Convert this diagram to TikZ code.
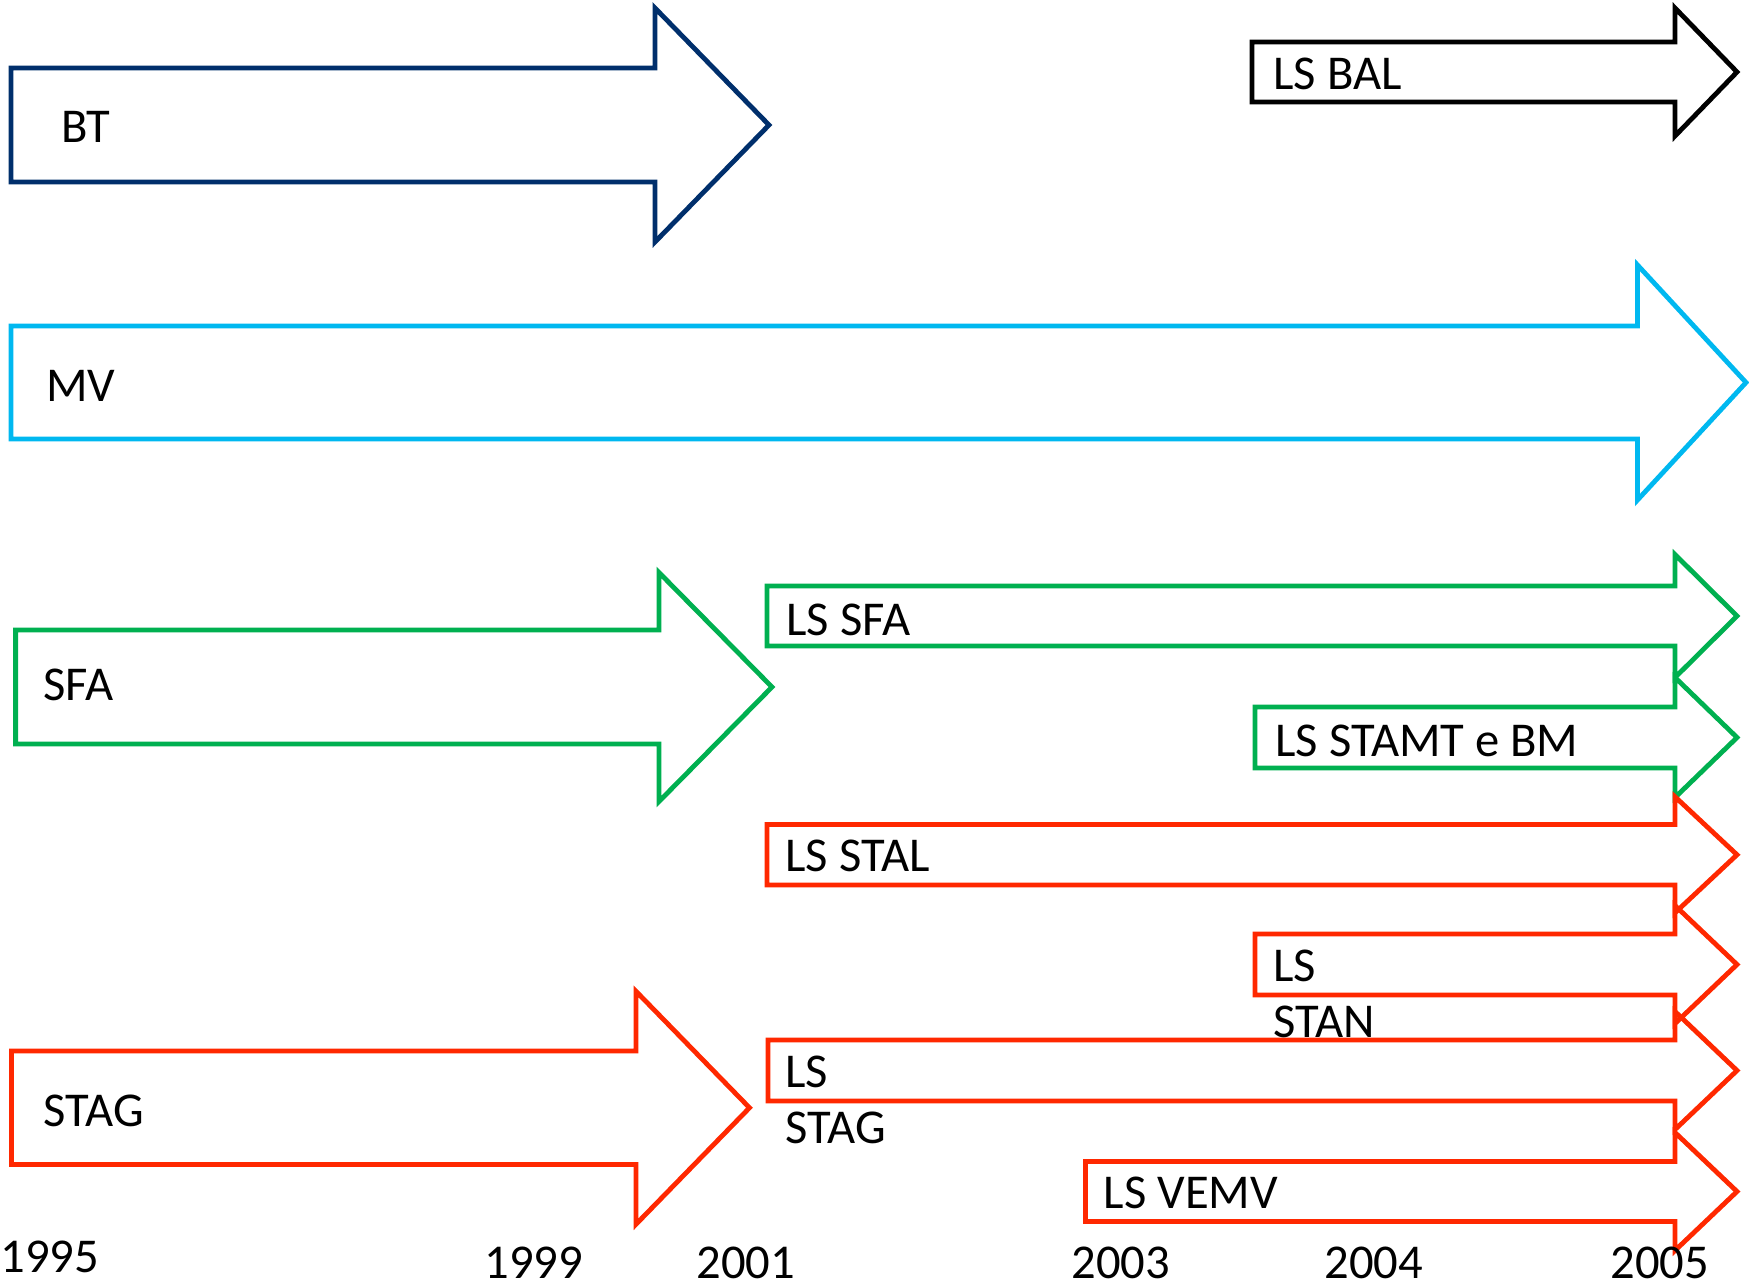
\documentclass[tikz,border=0pt]{standalone}
\usepackage{fontspec}
\setmainfont{Carlito}
\definecolor{cbt}{RGB}{0,47,108}
\definecolor{cmv}{RGB}{0,184,240}
\definecolor{cgr}{RGB}{0,176,80}
\definecolor{crd}{RGB}{255,40,0}
\newcommand\tlarrow[7]{% style, x0, top, bottom, xbase, half, tip
  \draw[#1] (#2,#3) -- (#5,#3) -- (#5,{(#3+#4)/2-#6}) -- (#7,{(#3+#4)/2})
    -- (#5,{(#3+#4)/2+#6}) -- (#5,#4) -- (#2,#4) -- cycle;}
\begin{document}
\begin{tikzpicture}[x=0.5pt,y=-0.5pt,
  arr/.style={line width=2.4pt},
  lbl/.style={inner sep=0pt,anchor=base west,font=\fontsize{24.3}{28}\selectfont,align=left},
  yr/.style={inner sep=0pt,anchor=base west,font=\fontsize{24.3}{28}\selectfont}]
\useasboundingbox (0,0) rectangle (1749,1287);
% arrows
\tlarrow{arr,cbt}{11}{68}{182}{655}{117}{769}
\tlarrow{arr,black}{1252}{42}{102}{1675}{64}{1737}
\tlarrow{arr,cmv}{11}{326}{439}{1637.5}{117.5}{1746}
\tlarrow{arr,cgr}{15.6}{630}{744}{659}{114.5}{772}
\tlarrow{arr,cgr}{767}{586}{646}{1675}{61.5}{1737}
\tlarrow{arr,cgr}{1255}{707}{768}{1675}{60}{1737}
\tlarrow{arr,crd}{767}{824.5}{885}{1675}{58}{1737}
\tlarrow{arr,crd}{1255}{934}{995}{1675}{59}{1737}
\tlarrow{arr,crd}{768}{1040}{1101}{1675}{59}{1737}
\tlarrow{arr,crd}{1085.5}{1161.5}{1221.5}{1675}{59}{1737}
\tlarrow{arr,crd}{11.5}{1051}{1164.5}{636}{116.5}{749.5}
% labels
\node[lbl] (bt) at (61,142) {BT};
\node[lbl] (lsbal) at (1273,89) {LS BAL};
\node[lbl] (mv) at (46,401) {MV};
\node[lbl] (sfa) at (43,700) {SFA};
\node[lbl] (lssfa) at (786,635) {LS SFA};
\node[lbl] (lsstamt) at (1275,756) {LS STAMT e BM};
\node[lbl] (lsstal) at (785,871) {LS STAL};
\node[lbl] (lsstan) at (1273,1037) {LS\\STAN};
\node[lbl] (lsstag) at (785,1143) {LS\\STAG};
\node[lbl] (lsvemv) at (1103.5,1208) {LS VEMV};
\node[lbl] (stag) at (43,1126) {STAG};
% years
\node[yr] (y1995) at (0,1272) {1995};
\node[yr] (y1999) at (484,1278) {1999};
\node[yr] (y2001) at (696,1278) {2001};
\node[yr] (y2003) at (1071,1278) {2003};
\node[yr] (y2004) at (1324,1278) {2004};
\node[yr] (y2005) at (1610,1278) {2005};
\end{tikzpicture}
\end{document}
